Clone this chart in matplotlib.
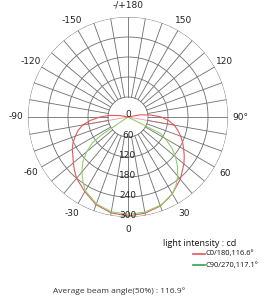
import numpy as np
import matplotlib
matplotlib.use("Agg")
import matplotlib.pyplot as plt

# ---- data ----
angle_labels = ["0", "30", "60", "90°", "120", "150", "-/+180", "-150", "-120", "-90", "-60", "-30"]
angle_label_pos = [0, 30, 60, 90, 120, 150, 180, 210, 240, 270, 300, 330]
radial_ticks = [0, 60, 120, 180, 240, 300]

c0_theta = [-105, -100, -95, -90, -85, -80, -75, -70, -65, -60, -55, -50, -45, -40, -30, -20, -10,
            0, 10, 20, 30, 40, 50, 55, 60, 65, 70, 75, 80, 85, 90, 95, 100, 105]
c0_cd = [0, 25, 55, 84, 112, 138, 155, 168, 182, 193, 202, 214, 227, 240, 259, 280, 292,
         297, 293, 284, 266, 244, 219, 206, 193, 181, 168, 155, 141, 122, 100, 68, 38, 0]

c90_theta = [-57, -56, -54, -50, -45, -40, -35, -30, -20, -10, 0, 10, 20, 25, 30, 35, 40, 45, 50, 55, 60, 63, 64]
c90_cd = [0, 95, 132, 162, 192, 215, 236, 256, 277, 289, 292, 290, 282, 275, 266, 251, 232, 210, 186, 160, 128, 110, 0]

legend_names = ["C0/180,116.6°", "C90/270,117.1°"]
unit_label = "light intensity : cd"
avg_label = "Average beam angle(50%) : 116.9°"

# ---- figure ----
W, H = 269, 300
fig = plt.figure(figsize=(W / 100, H / 100), dpi=100)
cx, cy, R = 128, 117, 100
ax = fig.add_axes([(cx - R) / W, 1 - (cy + R) / H, 2 * R / W, 2 * R / H], projection="polar")
ax.set_theta_zero_location("S")
ax.set_theta_direction(1)
ax.set_ylim(0, 300)
ax.grid(False)
ax.set_xticks([])
ax.set_yticks([])
ax.spines["polar"].set_visible(False)
ax.patch.set_alpha(0)

gcol = "#6e6e6e"
glw = 0.6
tt = np.linspace(0, 2 * np.pi, 361)
for r in radial_ticks[1:]:
    ax.plot(tt, np.full_like(tt, r), color=gcol, lw=glw, zorder=1)
for a in range(0, 360, 10):
    th = np.deg2rad(a)
    ax.plot([th, th], [60, 300], color=gcol, lw=glw, zorder=1)

# angle labels
for lab, a in zip(angle_labels, angle_label_pos):
    ax.text(np.deg2rad(a), 336, lab, ha="center", va="center", fontsize=6.5,
            color="#222222", family="DejaVu Sans", clip_on=False)

# radial labels
for r in radial_ticks:
    ax.text(0 if r else np.pi, max(r - 5, 0) if r else 8, str(r), ha="center", va="center", fontsize=6.5,
            color="#222222", family="DejaVu Sans", zorder=3)

red = "#e4585c"
green = "#8fd06a"
ax.plot(np.deg2rad(c0_theta), c0_cd, color=red, lw=0.8, zorder=2)
ax.plot(np.deg2rad(c90_theta), c90_cd, color=green, lw=0.8, zorder=2)
# inner straight segments of the C0/180 trace
i_r = c0_theta.index(80)
i_l = c0_theta.index(-80)
ax.plot(np.deg2rad([c0_theta[i_l], 0, c0_theta[i_r]]), [c0_cd[i_l], 0, c0_cd[i_r]],
        color=red, lw=0.6, alpha=0.6, zorder=2)

# legend / texts
tfont = ["Open Sans", "DejaVu Sans"]
fig.text(163 / W, 1 - 243 / H, unit_label, ha="left", va="center", fontsize=6.5,
         family=tfont, color="#111111")
for i, (name, col) in enumerate(zip(legend_names, ["#f0505a", "#2aa845"])):
    y = 1 - (254 + 11 * i) / H
    fig.add_artist(plt.Line2D([193 / W, 205 / W], [y, y], color=col, lw=1.2))
    fig.text(205 / W, y, name, ha="left", va="center", fontsize=5.4, family=tfont, color="#111111")
fig.text(53 / W, 1 - 291 / H, avg_label, ha="left", va="center", fontsize=6.0,
         family=tfont, color="#333333")

fig.savefig("out.png", dpi=100)
